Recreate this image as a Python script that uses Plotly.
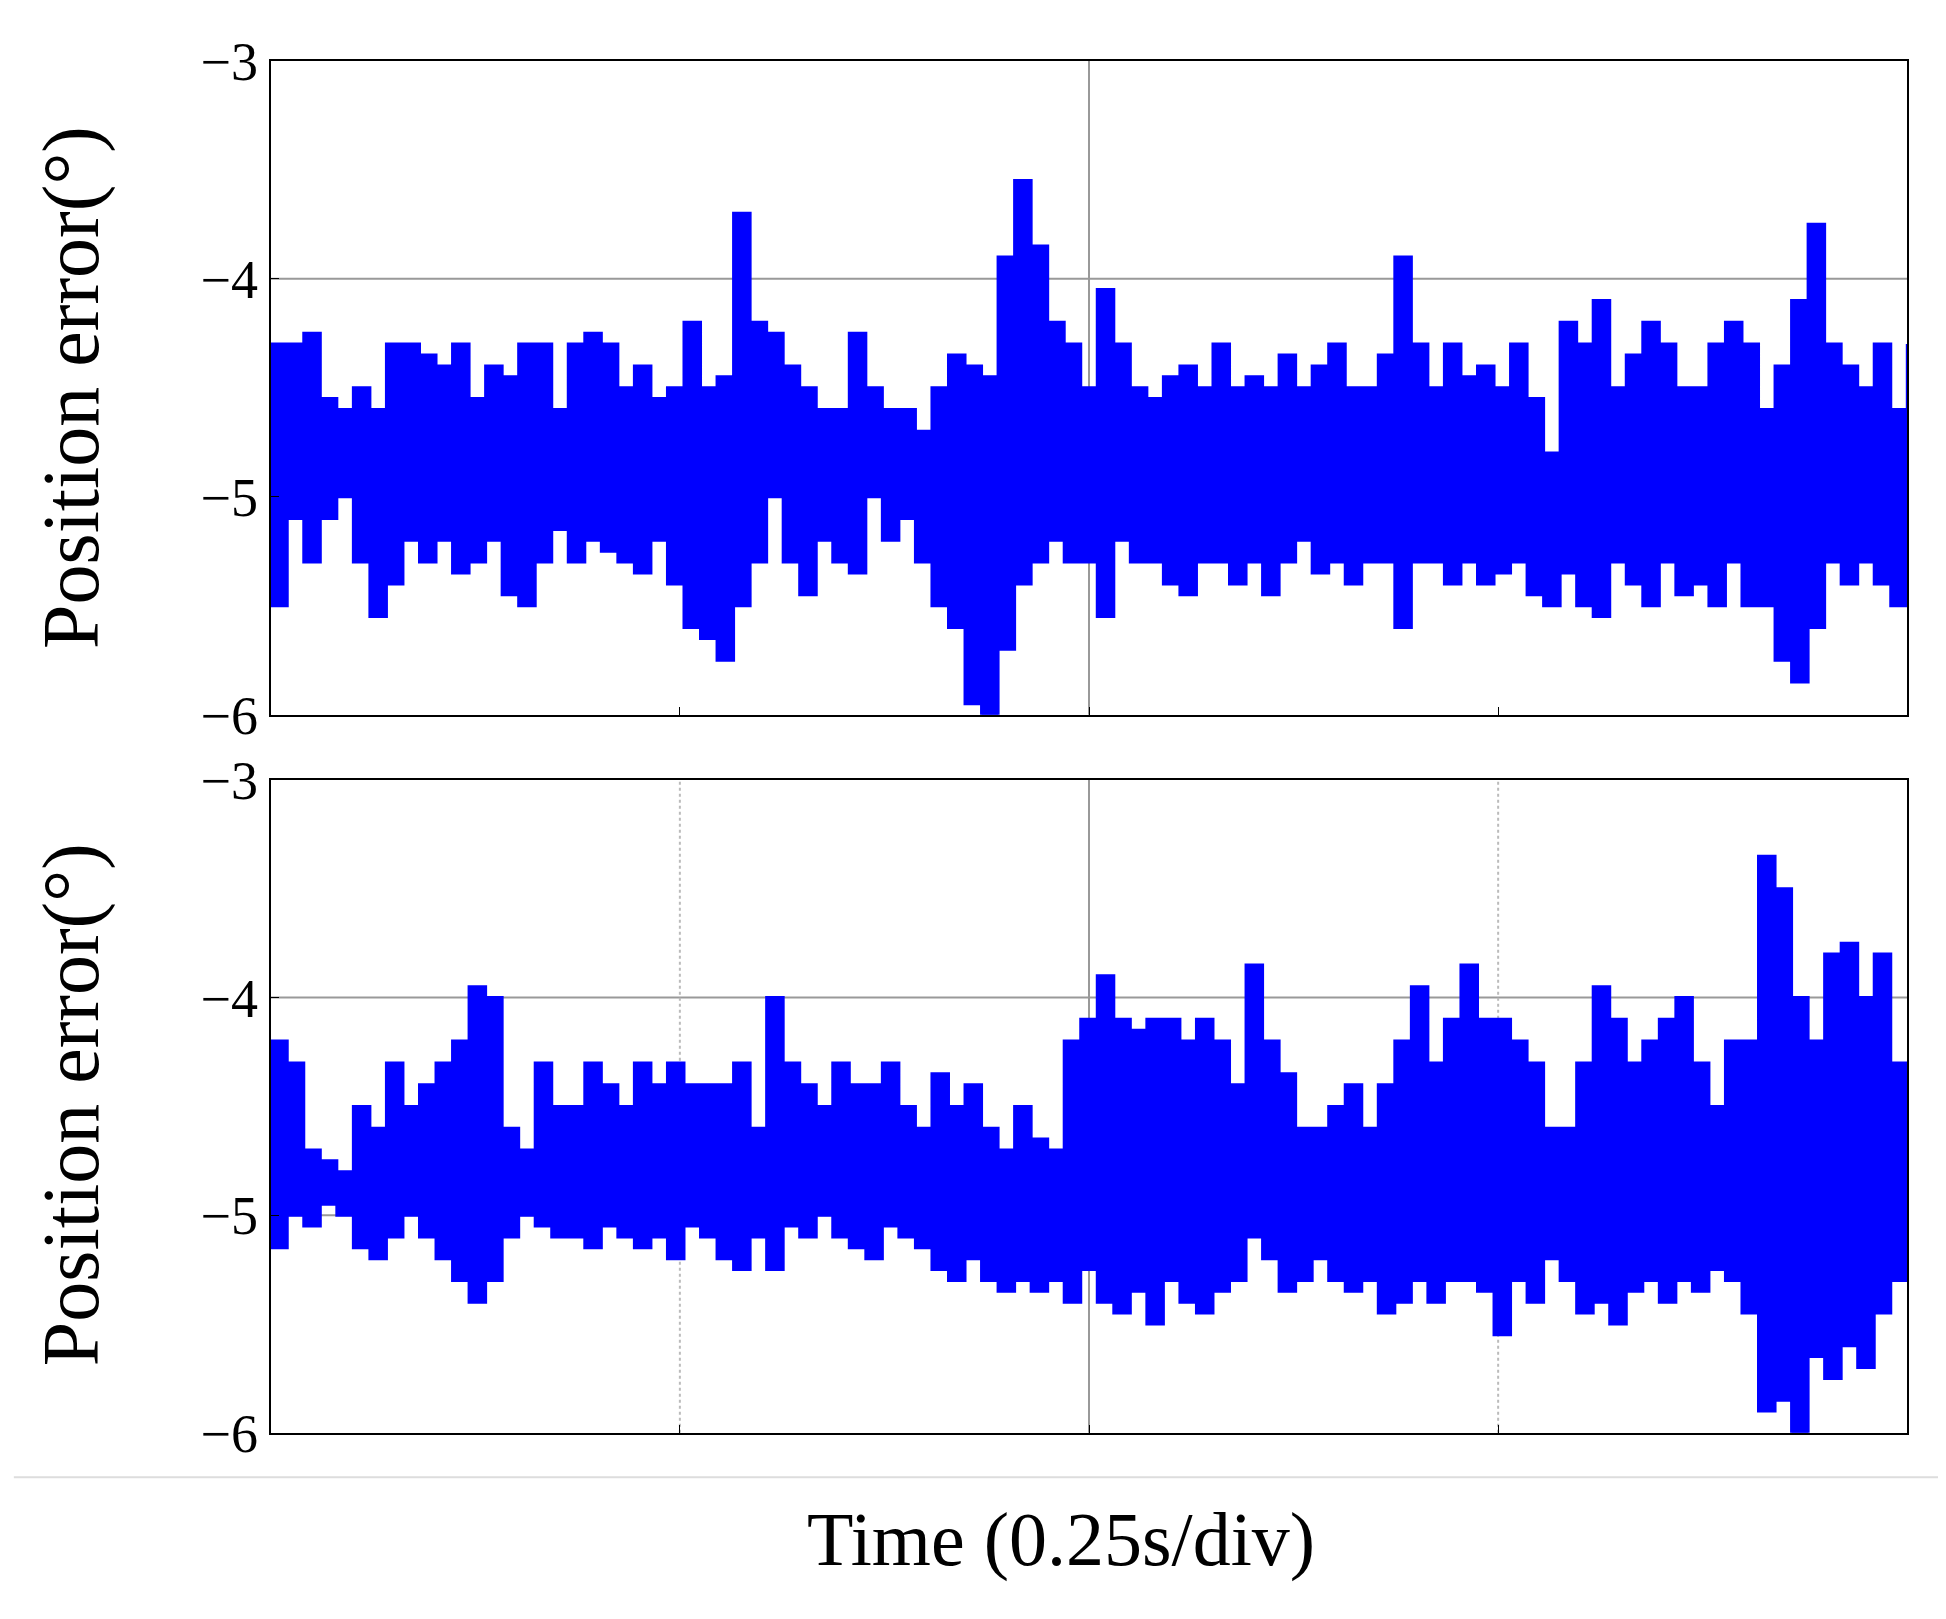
import plotly.graph_objects as go

top_hi = [-4.3,-4.3,-4.25,-4.55,-4.6,-4.5,-4.6,-4.3,-4.3,-4.35,
          -4.4,-4.3,-4.55,-4.4,-4.45,-4.3,-4.3,-4.6,-4.3,-4.25,
          -4.3,-4.5,-4.4,-4.55,-4.5,-4.2,-4.5,-4.45,-3.7,-4.2,
          -4.25,-4.4,-4.5,-4.6,-4.6,-4.25,-4.5,-4.6,-4.6,-4.7,
          -4.5,-4.35,-4.4,-4.45,-3.9,-3.55,-3.85,-4.2,-4.3,-4.5,
          -4.05,-4.3,-4.5,-4.55,-4.45,-4.4,-4.5,-4.3,-4.5,-4.45,
          -4.5,-4.35,-4.5,-4.4,-4.3,-4.5,-4.5,-4.35,-3.9,-4.3,
          -4.5,-4.3,-4.45,-4.4,-4.5,-4.3,-4.55,-4.8,-4.2,-4.3,
          -4.1,-4.5,-4.35,-4.2,-4.3,-4.5,-4.5,-4.3,-4.2,-4.3,
          -4.6,-4.4,-4.1,-3.75,-4.3,-4.4,-4.5,-4.3,-4.6,-4.3]
top_lo = [-5.5,-5.1,-5.3,-5.1,-5.0,-5.3,-5.55,-5.4,-5.2,-5.3,
          -5.2,-5.35,-5.3,-5.2,-5.45,-5.5,-5.3,-5.15,-5.3,-5.2,
          -5.25,-5.3,-5.35,-5.2,-5.4,-5.6,-5.65,-5.75,-5.5,-5.3,
          -5.0,-5.3,-5.45,-5.2,-5.3,-5.35,-5.0,-5.2,-5.1,-5.3,
          -5.5,-5.6,-5.95,-6.0,-5.7,-5.4,-5.3,-5.2,-5.3,-5.3,
          -5.55,-5.2,-5.3,-5.3,-5.4,-5.45,-5.3,-5.3,-5.4,-5.3,
          -5.45,-5.3,-5.2,-5.35,-5.3,-5.4,-5.3,-5.3,-5.6,-5.3,
          -5.3,-5.4,-5.3,-5.4,-5.35,-5.3,-5.45,-5.5,-5.35,-5.5,
          -5.55,-5.3,-5.4,-5.5,-5.3,-5.45,-5.4,-5.5,-5.3,-5.5,
          -5.5,-5.75,-5.85,-5.6,-5.3,-5.4,-5.3,-5.4,-5.5,-5.3]
bot_hi = [-4.2,-4.3,-4.7,-4.75,-4.8,-4.5,-4.6,-4.3,-4.5,-4.4,
          -4.3,-4.2,-3.95,-4.0,-4.6,-4.7,-4.3,-4.5,-4.5,-4.3,
          -4.4,-4.5,-4.3,-4.4,-4.3,-4.4,-4.4,-4.4,-4.3,-4.6,
          -4.0,-4.3,-4.4,-4.5,-4.3,-4.4,-4.4,-4.3,-4.5,-4.6,
          -4.35,-4.5,-4.4,-4.6,-4.7,-4.5,-4.65,-4.7,-4.2,-4.1,
          -3.9,-4.1,-4.15,-4.1,-4.1,-4.2,-4.1,-4.2,-4.4,-3.85,
          -4.2,-4.35,-4.6,-4.6,-4.5,-4.4,-4.6,-4.4,-4.2,-3.95,
          -4.3,-4.1,-3.85,-4.1,-4.1,-4.2,-4.3,-4.6,-4.6,-4.3,
          -3.95,-4.1,-4.3,-4.2,-4.1,-4.0,-4.3,-4.5,-4.2,-4.2,
          -3.35,-3.5,-4.0,-4.2,-3.8,-3.75,-4.0,-3.8,-4.3,-4.5]
bot_lo = [-5.15,-5.0,-5.05,-4.95,-5.0,-5.15,-5.2,-5.1,-5.0,-5.1,
          -5.2,-5.3,-5.4,-5.3,-5.1,-5.0,-5.05,-5.1,-5.1,-5.15,
          -5.05,-5.1,-5.15,-5.1,-5.2,-5.05,-5.1,-5.2,-5.25,-5.1,
          -5.25,-5.05,-5.1,-5.0,-5.1,-5.15,-5.2,-5.05,-5.1,-5.15,
          -5.25,-5.3,-5.2,-5.3,-5.35,-5.3,-5.35,-5.3,-5.4,-5.25,
          -5.4,-5.45,-5.35,-5.5,-5.3,-5.4,-5.45,-5.35,-5.3,-5.1,
          -5.2,-5.35,-5.3,-5.2,-5.3,-5.35,-5.3,-5.45,-5.4,-5.3,
          -5.4,-5.3,-5.3,-5.35,-5.55,-5.3,-5.4,-5.2,-5.3,-5.45,
          -5.4,-5.5,-5.35,-5.3,-5.4,-5.3,-5.35,-5.25,-5.3,-5.45,
          -5.9,-5.85,-6.0,-5.65,-5.75,-5.6,-5.7,-5.45,-5.3,-5.2]

y_ticks = [-3, -4, -5, -6]
y_title = "Position error(°)"
x_title = "Time (0.25s/div)"
BLUE = "#0000ff"

def xs(n):
    return [i / (n - 1) for i in range(n)]

fig = go.Figure()
for hi, lo, xa, ya in [(top_hi, top_lo, "x", "y"), (bot_hi, bot_lo, "x2", "y2")]:
    x = xs(len(hi))
    fig.add_trace(go.Scatter(x=x, y=lo, mode="lines", line=dict(color=BLUE, width=3, shape="hv"),
                             xaxis=xa, yaxis=ya))
    fig.add_trace(go.Scatter(x=x, y=hi, mode="lines", line=dict(color=BLUE, width=3, shape="hv"),
                             fill="tonexty", fillcolor=BLUE, xaxis=xa, yaxis=ya))

F = "Liberation Serif"
ax = dict(range=[0, 1], showgrid=False, zeroline=False, showticklabels=False,
          showline=True, mirror=True, linecolor="black", linewidth=2,
          ticks="inside", tickvals=[0.25, 0.5, 0.75], ticklen=8, tickcolor="black")
ay = dict(range=[-6, -3], showgrid=False, zeroline=False, tickvals=y_ticks,
          showline=True, mirror=True, linecolor="black", linewidth=2,
          ticks="inside", ticklen=8, tickcolor="black",
          tickfont=dict(family=F, size=54, color="black"))
fig.update_layout(
    width=1946, height=1619, margin=dict(l=0, r=0, t=0, b=0),
    paper_bgcolor="white", plot_bgcolor="white", showlegend=False,
    xaxis=dict(ax, domain=[0.135, 0.976], anchor="y"),
    yaxis=dict(ay, domain=[0.5653, 0.9848], anchor="x"),
    xaxis2=dict(ax, domain=[0.135, 0.976], anchor="y2"),
    yaxis2=dict(ay, domain=[0.1047, 0.5234], anchor="x2"),
)
shapes = []
for xr, yr in [("x", "y"), ("x2", "y2")]:
    for v in [-4, -5]:
        shapes.append(dict(type="line", xref=xr + " domain", yref=yr, x0=0, x1=1, y0=v, y1=v,
                           line=dict(color="#999999", width=2), layer="below"))
    shapes.append(dict(type="line", xref=xr, yref=yr + " domain", x0=0.5, x1=0.5, y0=0, y1=1,
                       line=dict(color="#999999", width=2), layer="below"))
for v in [0.25, 0.75]:
    shapes.append(dict(type="line", xref="x2", yref="y2 domain", x0=v, x1=v, y0=0, y1=1,
                       line=dict(color="#bbbbbb", width=2, dash="dot"), layer="below"))
shapes.append(dict(type="line", xref="paper", yref="paper", x0=0.003, x1=1, y0=0.0762, y1=0.0762,
                   line=dict(color="#dddddd", width=2)))
fig.update_layout(shapes=shapes)
for yc in [0.775, 0.315]:
    fig.add_annotation(text=y_title, xref="paper", yref="paper", x=0.033, y=yc, textangle=-90,
                       xanchor="center", yanchor="middle",
                       showarrow=False, font=dict(family=F, size=80, color="black"))
fig.add_annotation(text=x_title, xref="paper", yref="paper", x=0.541, y=0.036,
                   xanchor="center", yanchor="middle", showarrow=False,
                   font=dict(family=F, size=76, color="black"))
fig.write_html("out.html")
